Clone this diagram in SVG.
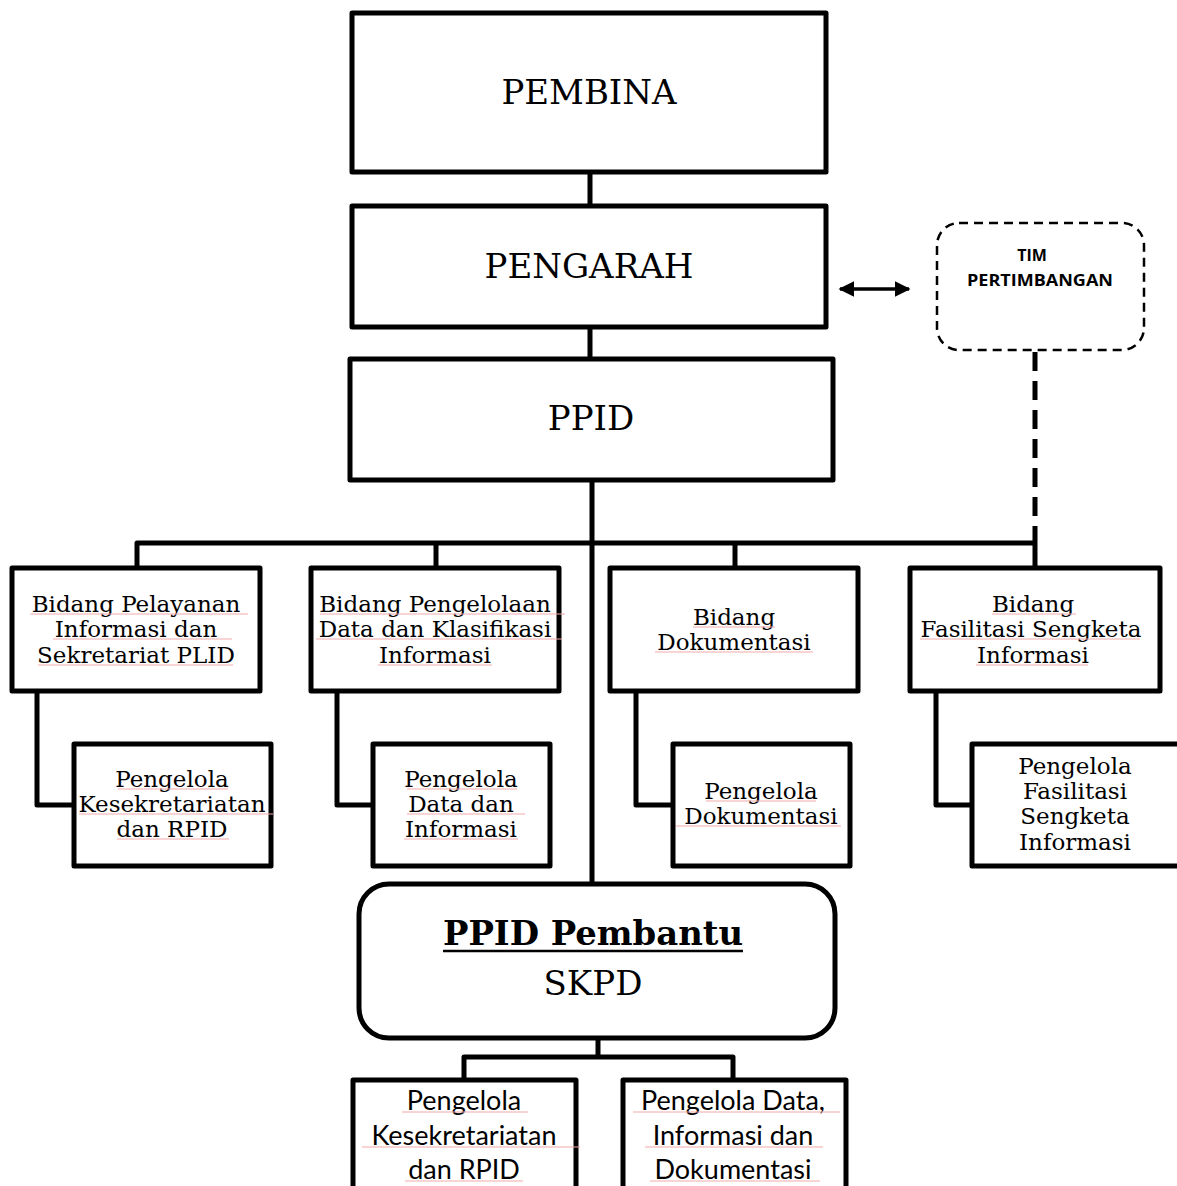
<svg xmlns="http://www.w3.org/2000/svg" width="1177" height="1186" viewBox="0 0 1177 1186">
<defs>
<style>
.box{fill:#fff;stroke:#000;stroke-width:5;stroke-linejoin:round}
.ln{fill:none;stroke:#000;stroke-width:5;stroke-linejoin:round}
.t{font-family:"DejaVu Serif","Liberation Serif",serif;fill:#000;text-anchor:middle}
.big{font-size:34px}
.mid{font-size:23px}
.s{font-family:Lato,"Liberation Sans",sans-serif;font-size:27px;fill:#000;text-anchor:middle}
.tim{font-family:"Open Sans","Liberation Sans",sans-serif;font-weight:bold;font-size:16px;fill:#000;text-anchor:middle}
.sq{stroke:#f3a9a9;stroke-width:1;fill:none}
</style>
<marker id="ah" viewBox="0 0 10 10" refX="9" refY="5" markerWidth="4.5" markerHeight="5" orient="auto-start-reverse">
<path d="M0,0 L10,5 L0,10 z" fill="#000"/>
</marker>
</defs>
<rect width="1177" height="1186" fill="#fff"/>

<g id="connectors">
<line class="ln" x1="590" y1="172" x2="590" y2="205"/>
<line class="ln" x1="590" y1="327" x2="590" y2="358"/>
<line class="ln" x1="592" y1="480" x2="592" y2="885"/>
<polyline class="ln" points="137,567 137,543 1035,543"/>
<line class="ln" x1="436" y1="543" x2="436" y2="567"/>
<line class="ln" x1="735" y1="543" x2="735" y2="567"/>
<line class="ln" x1="1035" y1="543" x2="1035" y2="567"/>
<line x1="1035" y1="352" x2="1035" y2="543" stroke="#000" stroke-width="5" stroke-dasharray="19,10"/>
<line x1="840" y1="289" x2="909" y2="289" stroke="#000" stroke-width="3.5" marker-start="url(#ah)" marker-end="url(#ah)"/>
<polyline class="ln" points="37,692 37,805 73,805"/>
<polyline class="ln" points="337,692 337,805 372,805"/>
<polyline class="ln" points="636,692 636,805 672,805"/>
<polyline class="ln" points="936,692 936,805 971,805"/>
<line class="ln" x1="598" y1="1038" x2="598" y2="1057"/>
<polyline class="ln" points="464,1080 464,1057 733,1057 733,1080"/>
</g>

<g id="pembina">
<rect class="box" x="352" y="13" width="474" height="159"/>
<text class="t big" x="589" y="104">PEMBINA</text>
</g>
<g id="pengarah">
<rect class="box" x="352" y="206" width="474" height="121"/>
<text class="t big" x="589" y="278">PENGARAH</text>
</g>
<g id="ppid">
<rect class="box" x="350" y="359" width="483" height="121"/>
<text class="t big" x="591" y="430">PPID</text>
</g>
<g id="tim">
<rect x="937" y="223" width="207" height="127" rx="22" fill="#fff" stroke="#000" stroke-width="2.5" stroke-dasharray="9,6"/>
<text class="tim" x="1032" y="261">TIM</text>
<text class="tim" x="1040" y="286" textLength="146" lengthAdjust="spacingAndGlyphs">PERTIMBANGAN</text>
</g>

<g id="bidang1">
<rect class="box" x="12" y="568" width="248" height="123"/>
<text class="t mid" x="136" y="612">Bidang Pelayanan</text>
<text class="t mid" x="136" y="637">Informasi dan</text>
<text class="t mid" x="136" y="663">Sekretariat PLID</text>
</g>
<g id="bidang2">
<rect class="box" x="311" y="568" width="248" height="123"/>
<text class="t mid" x="435" y="612">Bidang Pengelolaan</text>
<text class="t mid" x="435" y="637">Data dan Klasifikasi</text>
<text class="t mid" x="435" y="663">Informasi</text>
</g>
<g id="bidang3">
<rect class="box" x="610" y="568" width="248" height="123"/>
<text class="t mid" x="734" y="625">Bidang</text>
<text class="t mid" x="734" y="650">Dokumentasi</text>
</g>
<g id="bidang4">
<rect class="box" x="910" y="568" width="250" height="123"/>
<text class="t mid" x="1033" y="612">Bidang</text>
<text class="t mid" x="1031" y="637">Fasilitasi Sengketa</text>
<text class="t mid" x="1033" y="663">Informasi</text>
</g>

<g id="sub1">
<rect class="box" x="74" y="744" width="197" height="122"/>
<text class="t mid" x="172" y="787">Pengelola</text>
<text class="t mid" x="172" y="812">Kesekretariatan</text>
<text class="t mid" x="172" y="837">dan RPID</text>
</g>
<g id="sub2">
<rect class="box" x="373" y="744" width="177" height="122"/>
<text class="t mid" x="461" y="787">Pengelola</text>
<text class="t mid" x="461" y="812">Data dan</text>
<text class="t mid" x="461" y="837">Informasi</text>
</g>
<g id="sub3">
<rect class="box" x="673" y="744" width="177" height="122"/>
<text class="t mid" x="761" y="799">Pengelola</text>
<text class="t mid" x="761" y="824">Dokumentasi</text>
</g>
<g id="sub4">
<rect class="box" x="972" y="744" width="215" height="122"/>
<text class="t mid" x="1075" y="774">Pengelola</text>
<text class="t mid" x="1075" y="799">Fasilitasi</text>
<text class="t mid" x="1075" y="824">Sengketa</text>
<text class="t mid" x="1075" y="850">Informasi</text>
</g>

<g id="ppid-pembantu">
<rect class="box" x="359" y="884" width="476" height="154" rx="30"/>
<text class="t" x="593" y="945" font-size="33" font-weight="bold" textLength="300" lengthAdjust="spacingAndGlyphs">PPID Pembantu</text>
<line x1="443" y1="951" x2="743" y2="951" stroke="#000" stroke-width="2.5"/>
<text class="t big" x="593" y="995">SKPD</text>
</g>

<g id="bottom1">
<rect class="box" x="353" y="1080" width="223" height="120"/>
<text class="s" x="464" y="1110">Pengelola</text>
<text class="s" x="464" y="1145">Kesekretariatan</text>
<text class="s" x="464" y="1179">dan RPID</text>
</g>
<g id="bottom2">
<rect class="box" x="623" y="1080" width="223" height="120"/>
<text class="s" x="733" y="1110">Pengelola Data,</text>
<text class="s" x="733" y="1145">Informasi dan</text>
<text class="s" x="733" y="1179">Dokumentasi</text>
</g>

<g id="spellcheck-marks" class="sq">
<line x1="30" y1="614" x2="248" y2="614"/>
<line x1="53" y1="639" x2="232" y2="639"/>
<line x1="38" y1="665" x2="233" y2="665"/>
<line x1="320" y1="614" x2="565" y2="614"/>
<line x1="316" y1="639" x2="562" y2="639"/>
<line x1="378" y1="665" x2="492" y2="665"/>
<line x1="693" y1="627" x2="775" y2="627"/>
<line x1="655" y1="652" x2="813" y2="652"/>
<line x1="992" y1="614" x2="1076" y2="614"/>
<line x1="920" y1="639" x2="1140" y2="639"/>
<line x1="976" y1="665" x2="1088" y2="665"/>
<line x1="118" y1="789" x2="228" y2="789"/>
<line x1="79" y1="814" x2="273" y2="814"/>
<line x1="117" y1="839" x2="229" y2="839"/>
<line x1="407" y1="789" x2="517" y2="789"/>
<line x1="407" y1="814" x2="525" y2="814"/>
<line x1="404" y1="839" x2="518" y2="839"/>
<line x1="706" y1="801" x2="816" y2="801"/>
<line x1="676" y1="826" x2="841" y2="826"/>
<line x1="402" y1="1112" x2="528" y2="1112"/>
<line x1="362" y1="1147" x2="580" y2="1147"/>
<line x1="405" y1="1181" x2="523" y2="1181"/>
<line x1="633" y1="1112" x2="840" y2="1112"/>
<line x1="645" y1="1147" x2="823" y2="1147"/>
<line x1="650" y1="1181" x2="820" y2="1181"/>
</g>
</svg>
